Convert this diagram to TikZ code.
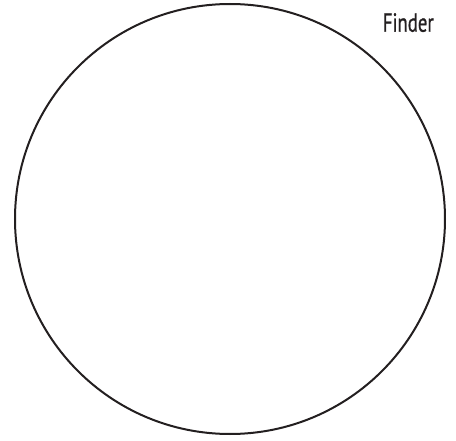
\documentclass[tikz,border=0pt]{standalone}
\usepackage{fontspec}
\setmainfont{PT Sans}[BoldFont={PT Sans},BoldFeatures={FakeBold=0.9}]
\definecolor{ink}{HTML}{231F20}
\begin{document}
\begin{tikzpicture}[x=1pt,y=-1pt,
  ring/.style={draw=ink,line width=2pt},
  lbl/.style={text=ink,inner sep=0pt,anchor=base east,font=\fontsize{26}{30}\selectfont\bfseries}]
\useasboundingbox (0,0) rectangle (456,441);
\node[ring,circle,minimum size=430pt,inner sep=0pt] (c) at (230,219) {};
\node[lbl] (f) at (434,31.7) {\resizebox{51pt}{18.5pt}{Finder}};
\end{tikzpicture}
\end{document}
